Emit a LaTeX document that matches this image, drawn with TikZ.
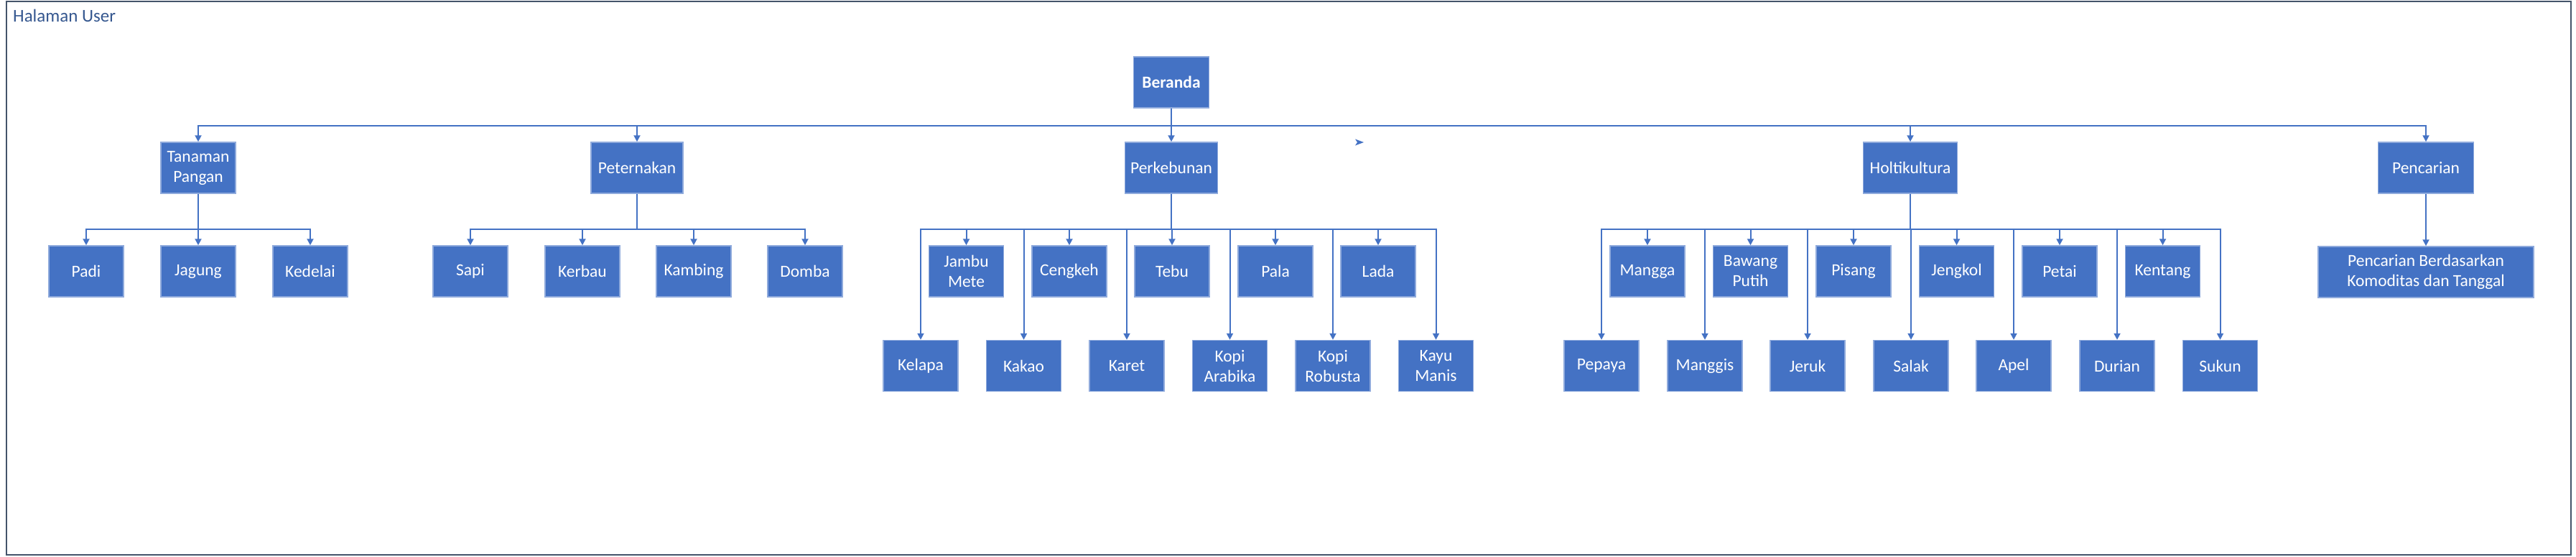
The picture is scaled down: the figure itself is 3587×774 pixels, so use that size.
\documentclass[tikz,border=0pt]{standalone}
\usepackage{fontspec}
\setmainfont{Carlito}
\usetikzlibrary{arrows.meta}
\definecolor{boxfill}{HTML}{4472C4}
\definecolor{boxline}{HTML}{8FAADC}
\definecolor{connc}{HTML}{4472C4}
\definecolor{framec}{HTML}{44546A}
\definecolor{titlec}{HTML}{35578F}
\tikzset{
  box/.style={draw=boxline, line width=1.5pt, fill=boxfill, text=white, inner sep=0pt,
    minimum width=104pt, minimum height=71pt, align=center,
    font=\fontsize{23.5}{28}\selectfont},
  conn/.style={draw=connc, line width=2pt, -{Triangle[length=9pt,width=9pt]}},
}
\begin{document}
\begin{tikzpicture}[x=1pt,y=-1pt]
\useasboundingbox (0,0) rectangle (3587,774);
\draw[framec, line width=2pt] (9,2) rectangle (3580,772);
\node[anchor=base west, text=titlec, inner sep=0pt, font=\fontsize{25}{28}\selectfont] (title) at (18,30) {Halaman User};

% root
\node[box, font=\bfseries\fontsize{23.5}{28}\selectfont, minimum width=105pt] (ber) at (1631,114.5) {Beranda};

% categories
\node[box] (tp) at (276,233.5) {Tanaman\\Pangan};
\node[box, minimum width=128pt] (pet) at (887,233.5) {Peternakan};
\node[box, minimum width=129pt] (kbn) at (1631,233.5) {Perkebunan};
\node[box, minimum width=131pt] (hol) at (2660,233.5) {Holtikultura};
\node[box, minimum width=133pt] (pen) at (3378,233.5) {Pencarian};

% Tanaman Pangan children
\node[box] (padi) at (120,377.5) {Padi};
\node[box] (jagung) at (276,377.5) {Jagung};
\node[box] (kedelai) at (432,377.5) {Kedelai};

% Peternakan children
\node[box] (sapi) at (655,377.5) {Sapi};
\node[box] (kerbau) at (811,377.5) {Kerbau};
\node[box] (kambing) at (966,377.5) {Kambing};
\node[box] (domba) at (1121,377.5) {Domba};

% Perkebunan children
\node[box] (jambu) at (1345.5,377.5) {Jambu\\Mete};
\node[box] (cengkeh) at (1489,377.5) {Cengkeh};
\node[box] (tebu) at (1632,377.5) {Tebu};
\node[box] (pala) at (1776,377.5) {Pala};
\node[box] (lada) at (1919,377.5) {Lada};
\node[box] (kelapa) at (1282,509) {Kelapa};
\node[box] (kakao) at (1425.5,509) {Kakao};
\node[box] (karet) at (1569,509) {Karet};
\node[box] (arabika) at (1712.5,509) {Kopi\\Arabika};
\node[box] (robusta) at (1856,509) {Kopi\\Robusta};
\node[box] (kayu) at (1999.5,509) {Kayu\\Manis};

% Holtikultura children
\node[box] (mangga) at (2294,377.5) {Mangga};
\node[box] (bawang) at (2437.5,377.5) {Bawang\\Putih};
\node[box] (pisang) at (2581,377.5) {Pisang};
\node[box] (jengkol) at (2724.5,377.5) {Jengkol};
\node[box] (petai) at (2868,377.5) {Petai};
\node[box] (kentang) at (3011.5,377.5) {Kentang};
\node[box] (pepaya) at (2230,509) {Pepaya};
\node[box] (manggis) at (2374,509) {Manggis};
\node[box] (jeruk) at (2517,509) {Jeruk};
\node[box] (salak) at (2661,509) {Salak};
\node[box] (apel) at (2804,509) {Apel};
\node[box] (durian) at (2948,509) {Durian};
\node[box] (sukun) at (3091.5,509) {Sukun};

% Pencarian child
\node[box, minimum width=300pt] (pbk) at (3378,378.5) {Pencarian Berdasarkan\\Komoditas dan Tanggal};

% connectors from root
\foreach \c in {tp,pet,kbn,hol,pen}
  \draw[conn] (ber.south) -- ++(0,24) -| (\c.north);

% category to children
\foreach \c in {padi,jagung,kedelai}
  \draw[conn] (tp.south) -- ++(0,49) -| (\c.north);
\foreach \c in {sapi,kerbau,kambing,domba}
  \draw[conn] (pet.south) -- ++(0,49) -| (\c.north);
\foreach \c in {jambu,cengkeh,tebu,pala,lada,kelapa,kakao,karet,arabika,robusta,kayu}
  \draw[conn] (kbn.south) -- ++(0,49) -| (\c.north);
\foreach \c in {mangga,bawang,pisang,jengkol,petai,kentang,pepaya,manggis,jeruk,salak,apel,durian,sukun}
  \draw[conn] (hol.south) -- ++(0,49) -| (\c.north);
\draw[conn] (pen.south) -- (pbk.north);

% stray arrowhead
\fill[connc] (1887,193.5) -- (1899,198) -- (1887,202.5) -- (1890,198) -- cycle;
\end{tikzpicture}
\end{document}
